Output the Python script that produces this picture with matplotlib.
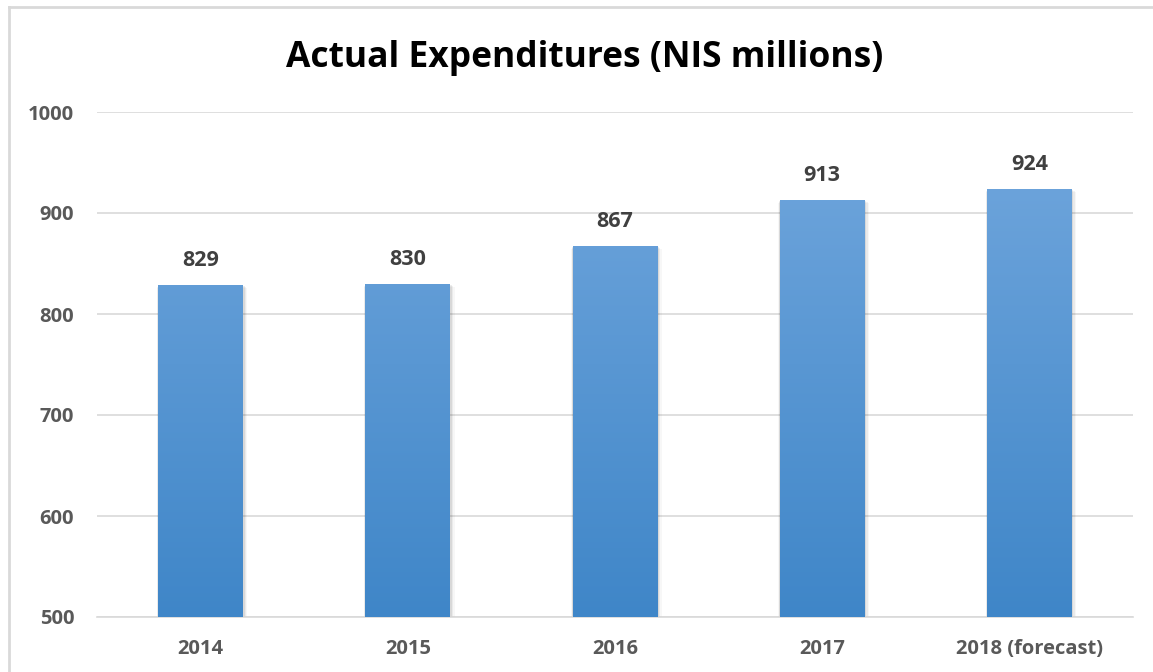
import matplotlib.pyplot as plt
import matplotlib.colors as mcolors
from matplotlib.lines import Line2D
from matplotlib.patches import Rectangle
import numpy as np

plt.rcParams['font.family'] = ['Open Sans', 'DejaVu Sans']

years = ['2014', '2015', '2016', '2017', '2018 (forecast)']
expenditures = [829, 830, 867, 913, 924]
y_ticks = [500, 600, 700, 800, 900, 1000]

W, H = 1153, 672
fig = plt.figure(figsize=(W / 100, H / 100), dpi=100)
ax = fig.add_axes([97 / W, 1 - 617 / H, (1133 - 97) / W, (617 - 112) / H])

# frame of the chart area (only left and top edges visible)
fig.add_artist(Line2D([8.5 / W, 8.5 / W], [0, 1 - 6.5 / H], transform=fig.transFigure,
                      color='#d9d9d9', lw=2))
fig.add_artist(Line2D([8.5 / W, 1], [1 - 6.5 / H, 1 - 6.5 / H], transform=fig.transFigure,
                      color='#d9d9d9', lw=2))

x = np.arange(len(years))
bar_w = 0.41
ax.set_xlim(-0.5, len(years) - 0.5)
ax.set_ylim(500, 1000)

# soft shadow around the bars
for xi, v in zip(x, expenditures):
    for k, a in enumerate([0.07, 0.05, 0.03]):
        off = 0.005 * (k + 1)
        ax.add_patch(Rectangle((xi - bar_w / 2 - off * 0.4, 500), bar_w + off * 1.8,
                               v - 500 - 1.0 * (k + 1),
                               facecolor='black', alpha=a, lw=0, zorder=2))

bars = ax.bar(x, [v - 500 for v in expenditures], bottom=500, width=bar_w,
              color='#5b9bd5', zorder=3)

cmap = mcolors.LinearSegmentedColormap.from_list('g', ['#3f86c8', '#73a8de'])
grad = np.linspace(0, 1, 256).reshape(-1, 1)
for b in bars:
    x0 = b.get_x()
    im = ax.imshow(grad, cmap=cmap, origin='lower', aspect='auto',
                   extent=[x0, x0 + b.get_width(), 500, 1000], zorder=4)
    im.set_clip_path(b)

for xi, v in zip(x, expenditures):
    ax.text(xi, v + 14, f'{v}', ha='center', va='bottom', fontsize=15.5,
            fontweight='bold', color='#404040', zorder=5)

ax.set_yticks(y_ticks)
ax.set_xticks(x)
ax.set_xticklabels(years)
ax.grid(axis='y', color='#d9d9d9', lw=1.2, zorder=0)
ax.set_axisbelow(True)
for s in ['top', 'right', 'left']:
    ax.spines[s].set_visible(False)
ax.spines['bottom'].set_color('#d9d9d9')
ax.spines['bottom'].set_linewidth(1.2)
ax.tick_params(axis='both', length=0, labelsize=14.5, labelcolor='#595959')
ax.tick_params(axis='y', pad=16.5)
ax.tick_params(axis='x', pad=15.5)
for lbl in ax.get_xticklabels() + ax.get_yticklabels():
    lbl.set_fontweight('bold')

fig.text(585 / W, 1 - 58 / H, 'Actual Expenditures (NIS millions)', ha='center', va='center',
         fontsize=25.5, fontweight='bold', color='black')

fig.savefig('out.png', dpi=100)
